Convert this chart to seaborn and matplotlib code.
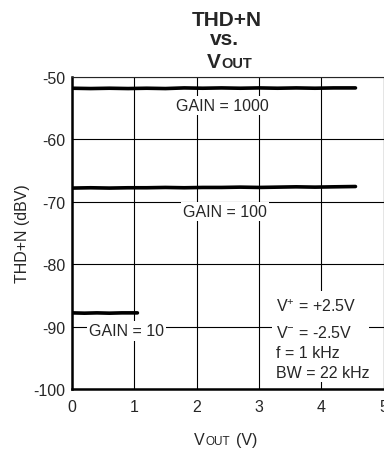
import numpy as np
import pandas as pd
import matplotlib
matplotlib.use('Agg')
import matplotlib.pyplot as plt
from matplotlib.patches import Rectangle
import seaborn as sns

# values (THD+N in dBV vs output voltage)
vout_long = [0.0, 0.3, 0.6, 0.9, 1.2, 1.5, 1.8, 2.1, 2.4, 2.7, 3.0, 3.3, 3.6, 3.9, 4.2, 4.55]
thd_g1000 = [-51.8, -51.85, -51.8, -51.85, -51.8, -51.85, -51.75, -51.8, -51.75, -51.8, -51.75, -51.8, -51.75, -51.8, -51.75, -51.75]
thd_g100 = [-67.8, -67.75, -67.8, -67.75, -67.75, -67.7, -67.75, -67.7, -67.7, -67.65, -67.7, -67.65, -67.6, -67.65, -67.6, -67.55]
vout_short = [0.0, 0.2, 0.4, 0.6, 0.8, 1.05]
thd_g10 = [-87.8, -87.85, -87.8, -87.85, -87.8, -87.8]

xticks = [0, 1, 2, 3, 4, 5]
yticks = [-100, -90, -80, -70, -60, -50]
conditions = ['V$^{+}$ = +2.5V', 'V$^{-}$ = -2.5V', 'f = 1 kHz', 'BW = 22 kHz']

sns.set_style('white')
plt.rcParams['font.family'] = ['Liberation Sans', 'DejaVu Sans']
plt.rcParams['axes.unicode_minus'] = False
plt.rcParams['mathtext.fontset'] = 'custom'
plt.rcParams['mathtext.rm'] = 'Liberation Sans'
plt.rcParams['mathtext.it'] = 'Liberation Sans'
plt.rcParams['mathtext.bf'] = 'Liberation Sans:bold'

W, H = 384, 452
fig = plt.figure(figsize=(W / 100, H / 100), dpi=100)
ax = fig.add_axes([72 / W, 1 - 390 / H, 311.5 / W, 312 / H])

df_long = pd.DataFrame({'vout': vout_long, 'g1000': thd_g1000, 'g100': thd_g100})
df_short = pd.DataFrame({'vout': vout_short, 'g10': thd_g10})

for d, col in [(df_long, 'g1000'), (df_long, 'g100'), (df_short, 'g10')]:
    sns.lineplot(data=d, x='vout', y=col, color='black', linewidth=2.6, ax=ax, zorder=3)

ax.set_xlim(0, 5)
ax.set_ylim(-100, -50)
ax.set_xticks(xticks)
ax.set_yticks(yticks)
ax.grid(True, color='black', linewidth=0.8)
ax.set_axisbelow(True)
for s in ['top', 'right']:
    ax.spines[s].set_linewidth(0.8)
for s in ['left', 'bottom']:
    ax.spines[s].set_linewidth(1.8)
    ax.spines[s].set_color('black')
ax.tick_params(axis='y', length=3.5, width=1, direction='out', labelsize=11.5, pad=1.5)
ax.tick_params(axis='x', length=0, labelsize=11.5, pad=7)
ax.set_xlabel('')
ax.set_ylabel('THD+N (dBV)', fontsize=11.5, labelpad=2)

# title (V with OUT subscript on the same baseline)
fig.text(227 / W, 1 - 26 / H, 'THD+N', ha='center', va='baseline', fontsize=15, fontweight='bold')
fig.text(224 / W, 1 - 45 / H, 'vs.', ha='center', va='baseline', fontsize=15, fontweight='bold')
fig.text(221 / W, 1 - 68 / H, 'V', ha='right', va='baseline', fontsize=15, fontweight='bold')
fig.text(221 / W, 1 - 68 / H, 'OUT', ha='left', va='baseline', fontsize=10.5, fontweight='bold')

# x label
fig.text(205 / W, 1 - 445 / H, 'V', ha='right', va='baseline', fontsize=11.5)
fig.text(205 / W, 1 - 445 / H, 'OUT', ha='left', va='baseline', fontsize=8.5)
fig.text(236 / W, 1 - 445 / H, '(V)', ha='left', va='baseline', fontsize=11.5)

box = dict(facecolor='white', edgecolor='none', pad=1.5)
ax.text(2.42, -54.5, 'GAIN = 1000', ha='center', va='center', fontsize=11.5, bbox=box)
ax.text(2.45, -71.5, 'GAIN = 100', ha='center', va='center', fontsize=11.5, bbox=box)
ax.text(0.88, -90.7, 'GAIN = 10', ha='center', va='center', fontsize=11.5, bbox=box)

ax.add_patch(Rectangle((3.21, -98.9), 1.56, 14.6, facecolor='white', edgecolor='none', zorder=2))
for yv, t in zip([-86.7, -90.9, -94.2, -97.4], conditions):
    ax.text(3.27, yv, t, ha='left', va='center', fontsize=11.5, zorder=4)

fig.savefig('out.png', dpi=100)
